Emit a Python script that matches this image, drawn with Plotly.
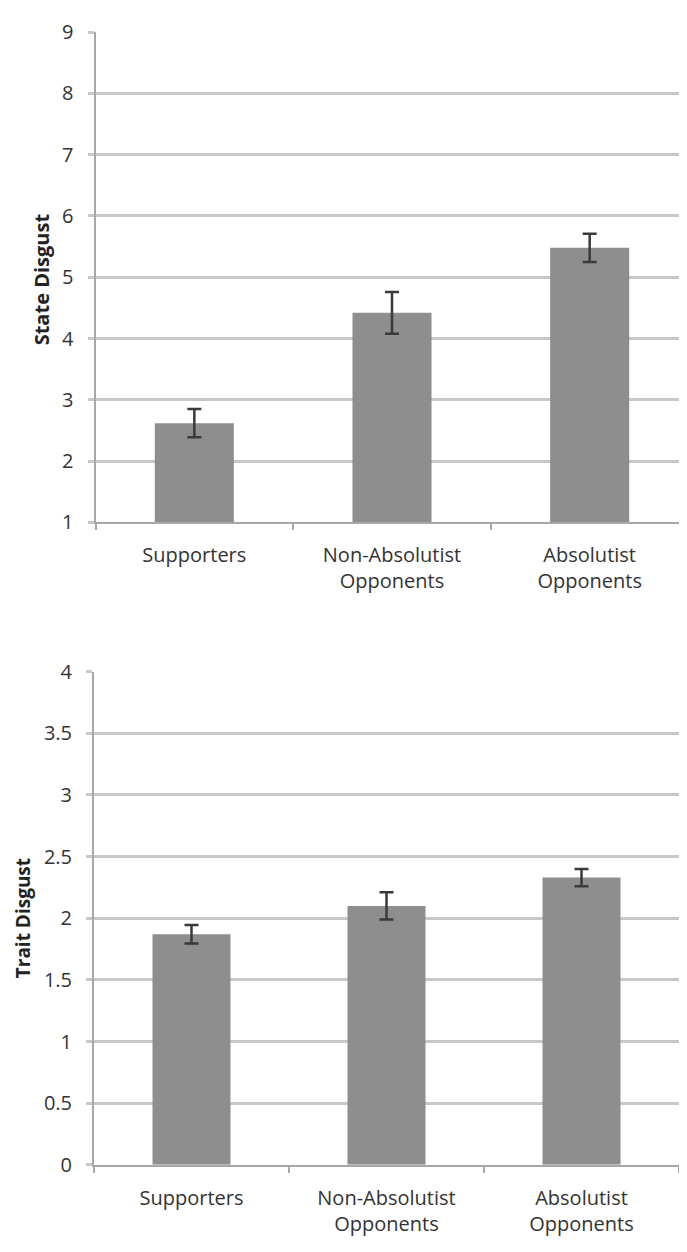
import plotly.graph_objects as go

categories = ["Supporters", "Non-Absolutist<br>Opponents", "Absolutist<br>Opponents"]
state_values = [2.62, 4.42, 5.48]
state_errors = [0.23, 0.34, 0.23]
trait_values = [1.87, 2.10, 2.33]
trait_errors = [0.075, 0.11, 0.07]
state_ticks = [1, 2, 3, 4, 5, 6, 7, 8, 9]
trait_ticks = [0, 0.5, 1, 1.5, 2, 2.5, 3, 3.5, 4]
trait_ticktext = ["0", "0.5", "1", "1.5", "2", "2.5", "3", "3.5", "4"]

W, H = 687, 1252
OFF = 8  # page body margin offset compensation
BAR = "#8e8e8e"
GRID = "#c8c8c8"
AXIS = "#a8a8a8"
ERR = "#3a3a3a"
FONT = "Open Sans"
TXT = "#333333"


def px(v):
    return (v - OFF) / W


def py(v):
    return 1 - (v - OFF) / H


fig = go.Figure()

fig.add_trace(go.Bar(
    x=categories, y=[v - 1 for v in state_values], base=1,
    marker=dict(color=BAR, line=dict(width=0)),
    error_y=dict(type="data", array=state_errors, color=ERR, thickness=2.5, width=7),
    xaxis="x", yaxis="y", showlegend=False,
))
fig.add_trace(go.Bar(
    x=categories, y=trait_values,
    marker=dict(color=BAR, line=dict(width=0)),
    error_y=dict(type="data", array=trait_errors, color=ERR, thickness=2.5, width=7),
    xaxis="x2", yaxis="y2", showlegend=False,
))

xcommon = dict(
    type="category", showgrid=False, showline=True, linecolor=AXIS, linewidth=2,
    ticks="outside", tickson="boundaries", ticklen=6, tickcolor=AXIS, tickwidth=2,
    tickfont=dict(family=FONT, size=20, color=TXT), ticklabelstandoff=14,
    zeroline=False,
)
ycommon = dict(
    showgrid=True, gridcolor=GRID, gridwidth=3, showline=True, linecolor=AXIS,
    linewidth=2, ticks="outside", ticklen=6, tickcolor=GRID, tickwidth=3,
    tickfont=dict(family=FONT, size=20, color=TXT), ticklabelstandoff=10,
    zeroline=False,
)

fig.update_layout(
    width=W, height=H,
    margin=dict(l=0, r=0, t=0, b=0),
    paper_bgcolor="white", plot_bgcolor="white",
    bargap=0.6,
    xaxis=dict(xcommon, domain=[px(95.5), min(1.0, px(688.5))], anchor="y"),
    yaxis=dict(ycommon, domain=[py(519.5), py(18.3)], range=[1, 9],
               tickvals=state_ticks, anchor="x"),
    xaxis2=dict(xcommon, domain=[px(94), px(679)], anchor="y2"),
    yaxis2=dict(ycommon, domain=[py(1176), py(672)], range=[0, 4],
                tickvals=trait_ticks, ticktext=trait_ticktext, anchor="x2"),
    annotations=[
        dict(text="<b>State Disgust</b>", x=px(41), y=py(271), xref="paper", yref="paper",
             textangle=-90, showarrow=False, xanchor="center", yanchor="middle",
             font=dict(family=FONT, size=20, color="#222222")),
        dict(text="<b>Trait Disgust</b>", x=px(23), y=py(924), xref="paper", yref="paper",
             textangle=-90, showarrow=False, xanchor="center", yanchor="middle",
             font=dict(family=FONT, size=19, color="#222222")),
    ],
)

fig.write_html("out.html")
